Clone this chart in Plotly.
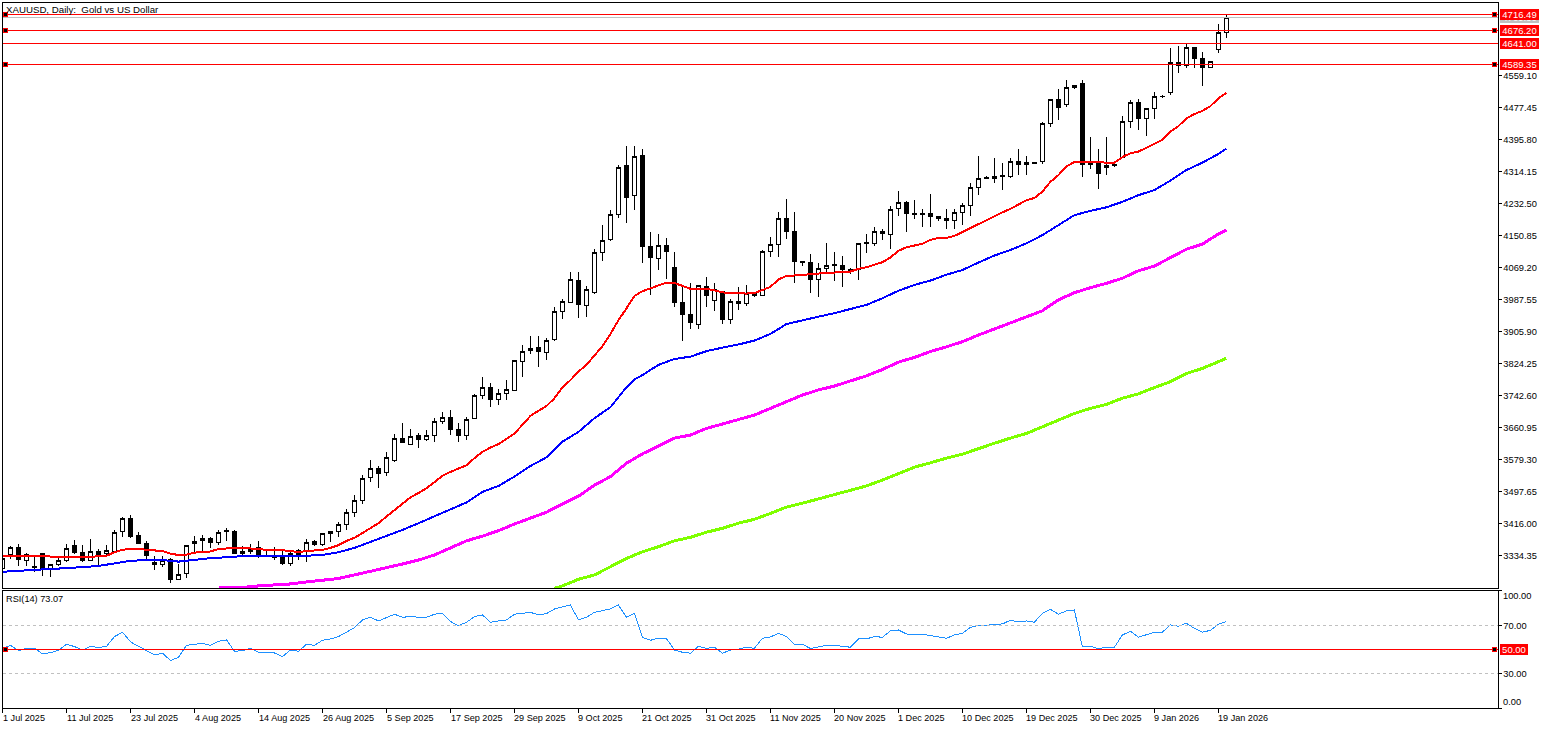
import plotly.graph_objects as go

# ── DATA ───────────────────────────────────────
# XAUUSD daily candles, one value per bar (bar 0 = 1 Jul 2025)

opens = [3303,3337,3356,3323,3305,3341,3301,3313,3323,3361,
         3343,3323,3346,3341,3345,3396,3430,3387,3366,3318,
         3313,3326,3274,3289,3366,3374,3379,3368,3400,3397,
         3341,3346,3356,3349,3333,3332,3315,3348,3345,3372,
         3363,3392,3396,3414,3445,3477,3534,3558,3547,3577,
         3635,3619,3642,3632,3642,3678,3688,3657,3642,3686,
         3744,3765,3734,3749,3757,3831,3859,3867,3854,3887,
         3958,3982,4037,3974,4006,4109,4142,4206,4331,4254,
         4356,4124,4094,4127,4071,3981,3951,3924,4022,3986,
         4009,3937,3984,3978,4004,3999,4111,4129,4196,4162,
         4086,4083,4040,4068,4076,4076,4066,4066,4132,4132,
         4162,4155,4221,4236,4208,4208,4208,4201,4196,4191,
         4211,4229,4275,4298,4298,4303,4303,4341,4333,4337,
         4341,4438,4498,4486,4534,4541,4333,4340,4326,4331,
         4352,4443,4492,4450,4477,4507,4517,4594,4586,4632,
         4604,4581,4626,4671]
highs = [3334,3360,3365,3343,3331,3343,3315,3331,3366,3375,
         3362,3377,3351,3362,3400,3433,3439,3396,3372,3334,
         3334,3328,3314,3362,3385,3389,3383,3400,3407,3400,
         3360,3366,3373,3351,3358,3348,3348,3351,3377,3375,
         3393,3399,3422,3453,3489,3541,3579,3564,3599,3645,
         3673,3658,3647,3656,3687,3703,3706,3673,3688,3747,
         3790,3777,3760,3783,3835,3872,3896,3896,3890,3969,
         3990,4058,4058,4023,4117,4179,4217,4332,4380,4380,
         4374,4160,4156,4145,4109,4021,4030,4026,4045,4030,
         4010,3989,4020,4027,4006,4114,4147,4211,4244,4211,
         4087,4106,4081,4132,4109,4101,4069,4133,4157,4173,
         4168,4227,4265,4240,4242,4219,4259,4202,4219,4219,
         4236,4285,4354,4303,4349,4336,4349,4374,4356,4339,
         4441,4500,4526,4549,4535,4549,4403,4373,4403,4338,
         4457,4498,4500,4478,4517,4511,4631,4636,4644,4633,
         4620,4597,4692,4716]
lows = [3300,3326,3309,3309,3294,3283,3281,3309,3320,3339,
        3320,3321,3309,3334,3343,3382,3381,3365,3324,3298,
        3307,3266,3273,3279,3343,3343,3354,3362,3373,3339,
        3331,3339,3328,3331,3324,3312,3309,3324,3320,3360,
        3360,3369,3383,3401,3435,3467,3524,3509,3539,3575,
        3622,3618,3611,3629,3626,3672,3644,3626,3630,3683,
        3736,3715,3720,3732,3755,3792,3850,3817,3834,3882,
        3940,3980,3942,3945,4003,4088,4139,4197,4185,4218,
        4083,4001,4065,4042,3970,3883,3914,3914,3970,3959,
        3927,3927,3962,3973,3996,3997,4096,4098,4144,4031,
        4074,4006,3996,4055,4037,4021,4053,4039,4108,4126,
        4140,4118,4202,4162,4193,4174,4174,4190,4168,4169,
        4179,4202,4256,4297,4285,4268,4300,4306,4306,4335,
        4335,4430,4447,4479,4527,4302,4323,4272,4306,4326,
        4349,4426,4421,4407,4450,4504,4511,4568,4579,4579,
        4534,4581,4619,4657]
closes = [3328,3356,3326,3339,3307,3300,3313,3323,3354,3342,
          3324,3346,3334,3349,3394,3430,3385,3366,3335,3312,
          3323,3274,3287,3361,3372,3379,3368,3394,3397,3340,
          3346,3351,3337,3350,3330,3315,3341,3336,3369,3363,
          3392,3397,3415,3446,3476,3532,3558,3545,3586,3635,
          3623,3640,3631,3642,3678,3688,3657,3641,3683,3744,
          3765,3733,3749,3760,3834,3856,3864,3856,3884,3958,
          3984,4040,3975,4014,4109,4139,4206,4326,4248,4354,
          4123,4095,4127,4111,3980,3950,3929,4025,3999,4014,
          3937,3984,3978,4004,3998,4111,4128,4196,4162,4086,
          4082,4040,4068,4076,4077,4065,4060,4132,4133,4162,
          4157,4219,4236,4208,4205,4205,4201,4196,4190,4211,
          4229,4275,4298,4299,4303,4304,4341,4333,4339,4338,
          4438,4498,4478,4530,4529,4333,4338,4310,4331,4332,
          4443,4492,4450,4477,4507,4508,4594,4586,4632,4603,
          4580,4597,4671,4709]
bars = list(range(len(closes)))

# moving averages: red is read on every bar, the others on every second bar
ma_red = [3335,3335,3334,3334,3334,3334,3333,3333,3333,3332,
          3332,3332,3334,3335,3344,3350,3353,3353,3350,3348,
          3347,3340,3337,3338,3343,3344,3346,3352,3354,3355,
          3355,3354,3352,3350,3350,3349,3347,3344,3347,3348,
          3350,3355,3362,3373,3381,3393,3405,3418,3435,3452,
          3468,3484,3495,3507,3523,3539,3549,3558,3566,3584,
          3600,3611,3620,3633,3647,3669,3692,3705,3717,3737,
          3765,3783,3805,3822,3845,3870,3901,3936,3966,3998,
          4010,4018,4026,4032,4031,4023,4016,4016,4016,4012,
          4007,4005,4004,4004,4005,4013,4021,4040,4049,4050,
          4052,4054,4055,4056,4058,4059,4060,4067,4071,4078,
          4084,4096,4113,4122,4127,4131,4141,4146,4146,4151,
          4161,4170,4181,4191,4202,4211,4220,4230,4242,4248,
          4264,4289,4306,4328,4340,4340,4340,4339,4338,4338,
          4352,4362,4366,4377,4386,4396,4417,4431,4451,4462,
          4470,4482,4502,4516]

ma_blue_bars = sorted(list(range(0, 153, 2)) + [79, 153])
ma_blue = [3294,3297,3299,3301,3303,3306,3309,3315,3322,3324,
           3324,3320,3324,3329,3331,3334,3334,3334,3334,3335,
           3337,3344,3355,3370,3385,3401,3418,3436,3455,3471,
           3498,3513,3537,3564,3586,3626,3651,3686,3714,3765,
           3785,3796,3822,3837,3843,3857,3866,3874,3884,3901,
           3926,3936,3945,3954,3964,3975,3992,4011,4026,4037,
           4052,4064,4083,4101,4115,4132,4153,4179,4204,4215,
           4224,4238,4255,4268,4292,4319,4338,4360,4374]

ma_magenta_bars = sorted([27, 79, 153] + list(range(30, 153, 2)))
ma_magenta = [3254,3254,3258,3260,3263,3268,3273,3277,3286,3295,
              3304,3314,3324,3337,3355,3373,3385,3399,3416,3431,
              3446,3467,3487,3515,3537,3571,3584,3595,3615,3635,
              3643,3660,3671,3683,3694,3711,3728,3745,3758,3768,
              3781,3794,3810,3829,3841,3856,3868,3881,3898,3913,
              3928,3945,3960,3988,4006,4019,4030,4043,4062,4074,
              4096,4117,4130,4156,4166]

ma_green_bars = [69] + list(range(70, 153, 2)) + [153]
ma_green = [3252,3258,3275,3286,3307,3328,3345,3358,3373,3382,
            3395,3405,3418,3428,3443,3459,3469,3480,3492,3503,
            3513,3528,3544,3561,3572,3584,3594,3609,3622,3635,
            3647,3664,3681,3698,3711,3721,3737,3748,3764,3779,
            3800,3813,3830,3839]

assert len(ma_blue) == len(ma_blue_bars)
assert len(ma_magenta) == len(ma_magenta_bars)
assert len(ma_green) == len(ma_green_bars)

rsi = [50.8,53.3,48.9,50.8,50.8,46.1,47.2,49.2,54.2,52.2,
       49.4,52.5,51.4,52.5,60.6,64.2,56.1,52.8,48.9,45.3,
       46.7,40.6,43.3,53.3,54.2,55.0,53.3,56.7,57.8,48.3,
       48.9,50.8,47.5,47.5,46.9,43.9,49.4,48.3,54.2,53.3,
       57.5,58.6,60.6,64.2,68.1,74.4,76.7,73.6,76.1,79.2,
       76.7,77.2,76.7,76.7,79.2,80.0,73.1,69.7,72.5,77.2,
       78.6,72.5,73.6,74.4,79.2,80.0,80.8,78.6,79.7,83.6,
       85.0,86.9,74.4,76.7,80.8,81.9,83.6,86.9,76.7,80.0,
       60.0,57.5,59.2,58.9,49.4,47.5,46.7,52.5,50.8,51.7,
       46.7,49.4,50.0,51.7,50.8,59.2,60.3,63.3,60.6,54.2,
       54.2,50.6,51.9,53.3,53.3,52.5,51.7,58.6,58.6,60.6,
       60.0,65.3,66.1,62.8,61.9,62.5,61.1,60.3,59.2,61.9,
       63.3,68.3,70.0,70.0,70.8,71.1,74.2,72.8,73.6,72.5,
       80.0,83.3,79.2,81.9,82.8,51.9,52.5,50.6,51.7,51.7,
       61.9,65.0,60.0,61.9,64.2,64.2,70.3,69.2,71.7,67.5,
       64.2,65.8,70.8,73.07]

date_labels = ['1 Jul 2025','11 Jul 2025','23 Jul 2025','4 Aug 2025','14 Aug 2025',
               '26 Aug 2025','5 Sep 2025','17 Sep 2025','29 Sep 2025','9 Oct 2025',
               '21 Oct 2025','31 Oct 2025','11 Nov 2025','20 Nov 2025','1 Dec 2025',
               '10 Dec 2025','19 Dec 2025','30 Dec 2025','9 Jan 2026','19 Jan 2026']
date_bars = list(range(0, 160, 8))

price_ticks = [4559.10,4477.45,4395.80,4314.15,4232.50,4150.85,4069.20,3987.55,
               3905.90,3824.25,3742.60,3660.95,3579.30,3497.65,3416.00,3334.35]

levels = [4716.49, 4676.20, 4641.00, 4589.35]
levels_with_handles = [4716.49, 4676.20, 4589.35]
last_price = 4709.30

# ── LAYOUT HELPERS ─────────────────────────────
W, H = 1550, 729
FONT = 'Liberation Sans'
FS = 9.5

def ydom(top, bottom):
    return [1 - bottom / H, 1 - top / H]

handle_left, handle_right = 0.34, 186.5

fig = go.Figure()

# ── PRICE PANEL ────────────────────────────────
fig.add_trace(go.Candlestick(
    x=bars, open=opens, high=highs, low=lows, close=closes,
    whiskerwidth=0,
    increasing=dict(line=dict(color='black', width=1), fillcolor='white'),
    decreasing=dict(line=dict(color='black', width=1), fillcolor='black'),
    hoverinfo='skip',
))

def ma_line(x, y, color, width):
    fig.add_trace(go.Scatter(x=x, y=y, mode='lines', line=dict(color=color, width=width),
                             hoverinfo='skip'))

ma_line(ma_green_bars, ma_green, '#7FFF00', 3)
ma_line(ma_magenta_bars, ma_magenta, '#FF00FF', 3)
ma_line(ma_blue_bars, ma_blue, '#0000FF', 2)
ma_line(bars, ma_red, '#FF0000', 2)

# ── RSI PANEL ──────────────────────────────────
fig.add_trace(go.Scatter(x=bars, y=rsi, mode='lines', xaxis='x2', yaxis='y2',
                         line=dict(color='#1E90FF', width=1), hoverinfo='skip'))

# ── LEVEL LINES ────────────────────────────────
fig.add_shape(type='line', xref='x domain', yref='y', x0=0, x1=1, y0=last_price, y1=last_price,
              line=dict(color='#C0C0C0', width=1))
for lvl in levels:
    fig.add_shape(type='line', xref='x domain', yref='y', x0=0, x1=1, y0=lvl, y1=lvl,
                  line=dict(color='red', width=1))
for lvl in [70, 30]:
    fig.add_shape(type='line', xref='x2 domain', yref='y2', x0=0, x1=1, y0=lvl, y1=lvl,
                  line=dict(color='#C0C0C0', width=1, dash='3px,3px'))
fig.add_shape(type='line', xref='x2 domain', yref='y2', x0=0, x1=1, y0=50, y1=50,
              line=dict(color='red', width=1))

# small square handles sit on top of the level lines, so they are shapes too
def handle(bar, lvl, xref, yref):
    fig.add_shape(type='rect', xref=xref, yref=yref, xsizemode='pixel', ysizemode='pixel',
                  xanchor=bar, yanchor=lvl, x0=-2, x1=2, y0=-2, y1=2,
                  fillcolor='black', line=dict(color='red', width=1))

for lvl in levels_with_handles:
    handle(handle_left, lvl, 'x', 'y')
    handle(handle_right, lvl, 'x', 'y')
handle(handle_left, 50, 'x2', 'y2')
handle(handle_right, 50, 'x2', 'y2')

# ── TEXT ───────────────────────────────────────
def label(text, x, y, xref='paper', yref='paper', color='black', size=FS, **kw):
    fig.add_annotation(text=text, x=x, y=y, xref=xref, yref=yref, showarrow=False,
                       xanchor='left', yanchor='middle', borderpad=0, borderwidth=0,
                       font=dict(family=FONT, size=size, color=color), **kw)

label('XAUUSD, Daily:  Gold vs US Dollar', 5.5 / W, 1 - 9 / H, size=9.7)
label('RSI(14) 73.07', 5.5 / W, 1 - 599 / H, size=9.2)

for b, txt in zip(date_bars, date_labels):
    label(txt, b, 1 - 717.5 / H, xref='x2', size=9.1)

# price tags on the right, grey one first so it stays behind
label(f'{last_price:.2f}', 1500 / W, last_price, yref='y', color='white',
      bgcolor='#C0C0C0', width=39, height=11, align='center')
for lvl in levels:
    label(f'{lvl:.2f}', 1500 / W, lvl, yref='y', color='white',
          bgcolor='red', width=39, height=11, align='center')
label('50.00', 1500 / W, 50, yref='y2', color='white', bgcolor='red',
      width=28, height=11, align='center')
label('100.00', 1503 / W, 94.7, yref='y2', size=9.3)
label('0.00', 1503 / W, 5.8, yref='y2', size=9.3)

# ── AXES ───────────────────────────────────────
axis_line = dict(showline=True, linecolor='black', linewidth=1, mirror=True,
                 showgrid=False, zeroline=False)
tick_font = dict(family=FONT, size=9.3, color='black')

fig.update_layout(
    width=W, height=H, margin=dict(l=0, r=0, t=0, b=0),
    paper_bgcolor='white', plot_bgcolor='white', showlegend=False, boxgap=0.3,
    xaxis=dict(domain=[2.5 / W, 1497.5 / W], range=[-0.01, 186.9], anchor='y',
               rangeslider=dict(visible=False), showticklabels=False, ticks='', **axis_line),
    yaxis=dict(domain=ydom(2.5, 588.3), range=[3251.9, 4746.6], anchor='x', side='right',
               tickmode='array', tickvals=price_ticks, ticktext=[f'{p:.2f}' for p in price_ticks],
               ticks='outside', ticklen=3, tickcolor='black', tickfont=tick_font, **axis_line),
    xaxis2=dict(domain=[2.5 / W, 1497.5 / W], range=[-0.01, 186.9], anchor='y2',
                tickmode='array', tickvals=date_bars, showticklabels=False,
                ticks='outside', ticklen=4, tickcolor='black', **axis_line),
    yaxis2=dict(domain=ydom(590.7, 708.3), range=[0.83, 98.8], anchor='x2', side='right',
                tickmode='array', tickvals=[98.7, 70, 30, 0.9], ticktext=['', '70.00', '30.00', ''],
                ticks='outside', ticklen=3, tickcolor='black', tickfont=tick_font, **axis_line),
)

# the original is drawn without anti-aliasing, so switch it off for the marks too
crisp = """
document.body.style.margin='0';
document.querySelectorAll('.main-svg path').forEach(function(p){p.style.shapeRendering='crispEdges';});
"""
fig.write_html("out.html", config={'displayModeBar': False}, post_script=crisp)
